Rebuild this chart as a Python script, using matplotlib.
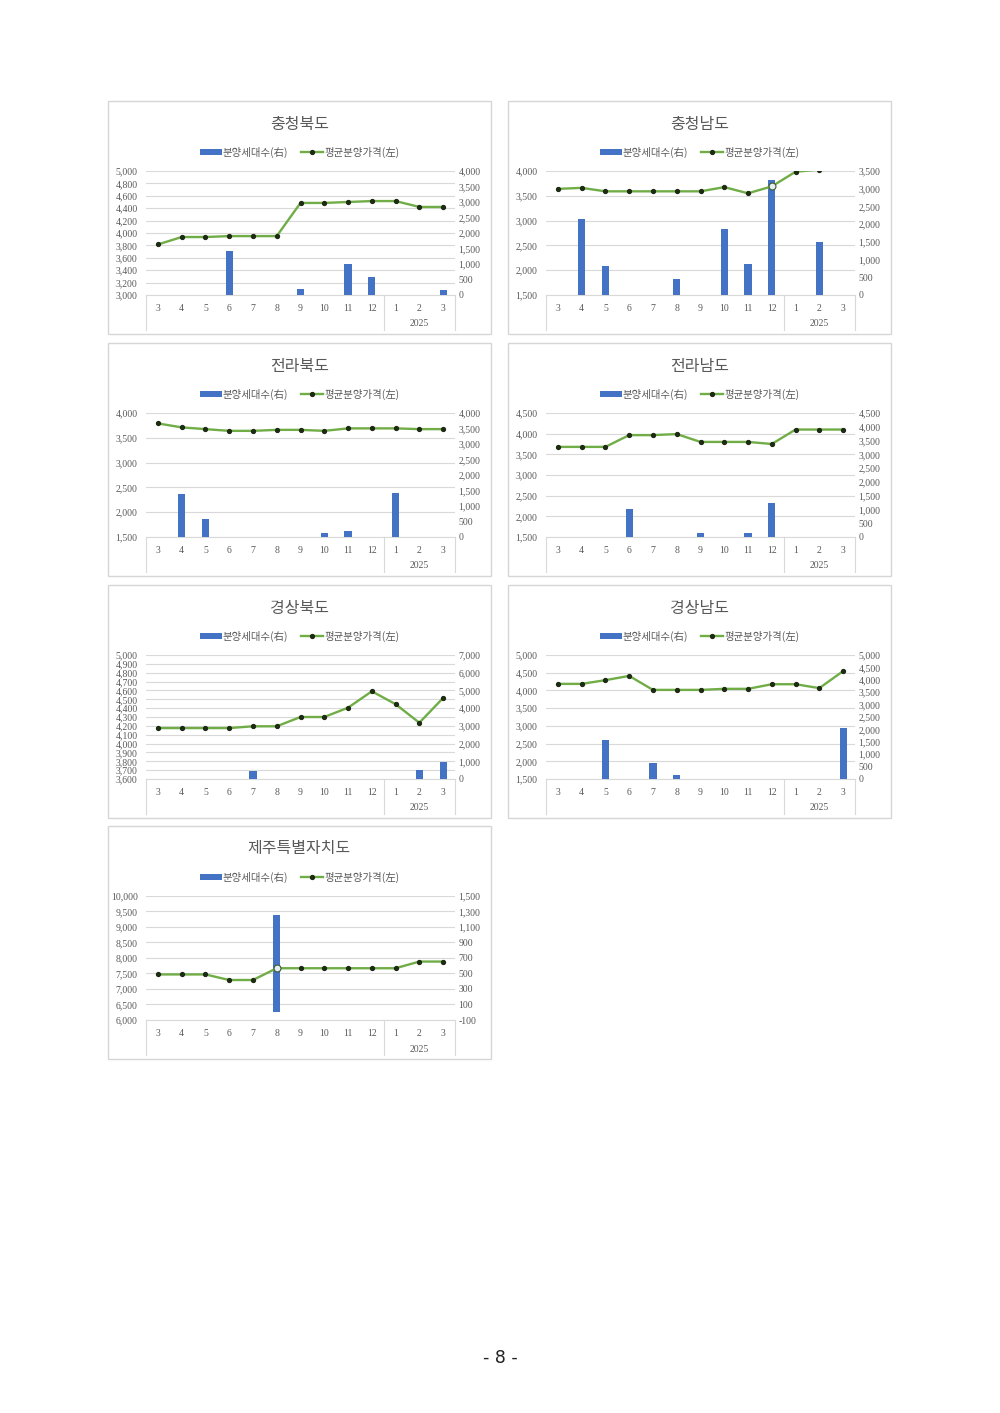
import numpy as np
import matplotlib
matplotlib.use("Agg")
import matplotlib.pyplot as plt
from matplotlib.patches import Rectangle, Patch
from matplotlib.lines import Line2D
from matplotlib.ticker import FuncFormatter
from matplotlib.transforms import blended_transform_factory

plt.rcParams['font.family'] = ['Liberation Serif', 'DejaVu Sans']
CJK = ['Noto Sans CJK KR', 'DejaVu Sans']

# ---------------- data ----------------
months = ['3', '4', '5', '6', '7', '8', '9', '10', '11', '12', '1', '2', '3']
year_label = '2025'
regions = ['충청북도', '충청남도', '전라북도', '전라남도', '경상북도', '경상남도', '제주특별자치도']
legend_labels = ['분양세대수(右)', '평균분양가격(左)']

price_cb = [3815, 3935, 3935, 3950, 3950, 3950, 4485, 4485, 4500, 4515, 4515, 4420, 4420]
units_cb = [0, 0, 0, 1430, 0, 0, 180, 0, 1000, 590, 0, 0, 160]

price_cn = [3640, 3660, 3590, 3590, 3590, 3590, 3590, 3675, 3550, 3690, 3985, 4030, 4150]
units_cn = [0, 2140, 830, 0, 0, 440, 0, 1860, 870, 3240, 0, 1500, 0]

price_jb = [3790, 3710, 3675, 3640, 3640, 3660, 3660, 3640, 3690, 3690, 3690, 3675, 3675]
units_jb = [0, 1400, 590, 0, 0, 0, 0, 120, 200, 0, 1435, 0, 0]

price_jn = [3680, 3680, 3680, 3965, 3965, 3990, 3800, 3800, 3800, 3750, 4100, 4100, 4100]
units_jn = [0, 0, 0, 1010, 0, 0, 145, 0, 145, 1230, 0, 0, 0]

price_gb = [4175, 4175, 4175, 4175, 4195, 4195, 4300, 4300, 4405, 4590, 4445, 4235, 4515]
units_gb = [0, 0, 0, 0, 450, 0, 0, 0, 0, 0, 0, 510, 980]

price_gn = [4185, 4185, 4290, 4410, 4015, 4015, 4015, 4045, 4045, 4175, 4175, 4065, 4545]
units_gn = [0, 0, 1555, 0, 635, 150, 0, 0, 0, 0, 0, 0, 2055]

price_jj = [7470, 7470, 7470, 7290, 7290, 7670, 7670, 7670, 7670, 7670, 7670, 7885, 7885]
units_jj = [0, 0, 0, 0, 0, 1260, 0, 0, 0, 0, 0, 0, 0]

prices = [price_cb, price_cn, price_jb, price_jn, price_gb, price_gn, price_jj]
units = [units_cb, units_cn, units_jb, units_jn, units_gb, units_gn, units_jj]

# axis ranges: (min, max, step)
left_axes = [(3000, 5000, 200), (1500, 4000, 500), (1500, 4000, 500), (1500, 4500, 500),
             (3600, 5000, 100), (1500, 5000, 500), (6000, 10000, 500)]
right_axes = [(0, 4000, 500), (0, 3500, 500), (0, 4000, 500), (0, 4500, 500),
              (0, 7000, 1000), (0, 5000, 500), (-100, 1500, 200)]
highlight = {1: 9, 6: 5}  # selected points shown in the source

# ---------------- layout ----------------
W, H = 1000, 1413
fig = plt.figure(figsize=(W / 100, H / 100), dpi=100)
fig.patch.set_facecolor('white')

panel_pos = [(108, 101), (508, 101), (108, 343), (508, 343), (108, 585), (508, 585), (108, 826)]
PW, PH = 383, 233

BLUE = '#4472C4'
GREEN = '#70AD47'
DOT = '#1E2B14'
GRID = '#D9D9D9'
TXT = '#595959'

fmt = FuncFormatter(lambda v, p: f'{v:,.0f}')


def frect(x, y, w, h):
    return [x / W, 1 - (y + h) / H, w / W, h / H]


x = np.arange(len(months))

for i, (px, py) in enumerate(panel_pos):
    # panel border
    fig.patches.append(Rectangle((px / W, 1 - (py + PH) / H), PW / W, PH / H,
                                 transform=fig.transFigure, fill=False,
                                 ec='#D6D6D6', lw=1.0))
    fig.text((px + PW / 2) / W, 1 - (py + 23) / H, regions[i], ha='center', va='center',
             fontsize=11.5, color=TXT, family=CJK)

    axh = 124
    ax = fig.add_axes(frect(px + 38, py + 70, 309, axh))
    ax_bar = ax.twinx()
    ax_line = ax.twinx()

    lmin, lmax, lstep = left_axes[i]
    rmin, rmax, rstep = right_axes[i]

    # left axis (grid)
    ax.set_xlim(-0.5, len(months) - 0.5)
    ax.set_ylim(lmin, lmax)
    ax.set_yticks(np.arange(lmin, lmax + 1, lstep))
    ax.yaxis.set_major_formatter(fmt)
    ax.yaxis.grid(True, color=GRID, lw=0.8)
    ax.set_axisbelow(True)
    ax.tick_params(axis='y', length=0, pad=6, labelsize=7, labelcolor=TXT)
    ax.set_xticks(x)
    ax.set_xticklabels(months)
    ax.tick_params(axis='x', length=0, pad=6.5, labelsize=7, labelcolor=TXT)

    # bars (right axis)
    ax_bar.bar(x, units[i], width=0.3, color=BLUE, zorder=2)
    ax_bar.set_ylim(rmin, rmax)
    ax_bar.set_yticks(np.arange(rmin, rmax + 1, rstep))
    ax_bar.yaxis.set_major_formatter(fmt)
    ax_bar.tick_params(axis='y', length=0, pad=2.5, labelsize=7, labelcolor=TXT)

    # line (left scale)
    ax_line.plot(x, prices[i], color=GREEN, lw=1.7, marker='o', ms=2.8,
                 mfc=DOT, mec=DOT, zorder=3)
    ax_line.set_ylim(lmin, lmax)
    ax_line.yaxis.set_visible(False)
    if i in highlight:
        k = highlight[i]
        ax_line.plot(x[k], prices[i][k], marker='o', ms=5, mfc='#E4ECF5',
                     mec='#3A5A2A', mew=0.8, zorder=4)

    for a in (ax, ax_bar, ax_line):
        for s in a.spines.values():
            s.set_visible(False)
    ax.spines['bottom'].set_visible(True)
    ax.spines['bottom'].set_color(GRID)
    ax.spines['bottom'].set_linewidth(0.8)

    # multi-level category separators
    trans = blended_transform_factory(ax.transData, ax.transAxes)
    for xv in (-0.5, 9.5, len(months) - 0.5):
        ax.plot([xv, xv], [0, -35 / axh], transform=trans, clip_on=False,
                color=GRID, lw=0.8)
    ax.text(11, -29 / axh, year_label, transform=trans, ha='center', va='center',
            fontsize=7, color=TXT)

    # legend
    handles = [Patch(facecolor=BLUE, edgecolor='none'),
               Line2D([], [], color=GREEN, lw=1.7, marker='o', ms=2.8, mfc=DOT, mec=DOT)]
    ax.legend(handles, legend_labels, loc='center',
              bbox_to_anchor=((px + PW / 2) / W, 1 - (py + 51) / H),
              bbox_transform=fig.transFigure, ncol=2, frameon=False,
              prop={'family': CJK, 'size': 7.5}, labelcolor=TXT,
              handlelength=2.1, handleheight=0.5, handletextpad=0.12,
              columnspacing=1.2, borderpad=0)

fig.text(0.5, 1 - 1358 / H, '- 8 -', ha='center', va='center', fontsize=12.5,
         color='#222222', family=['DejaVu Sans'])

fig.savefig('out.png', dpi=100)
